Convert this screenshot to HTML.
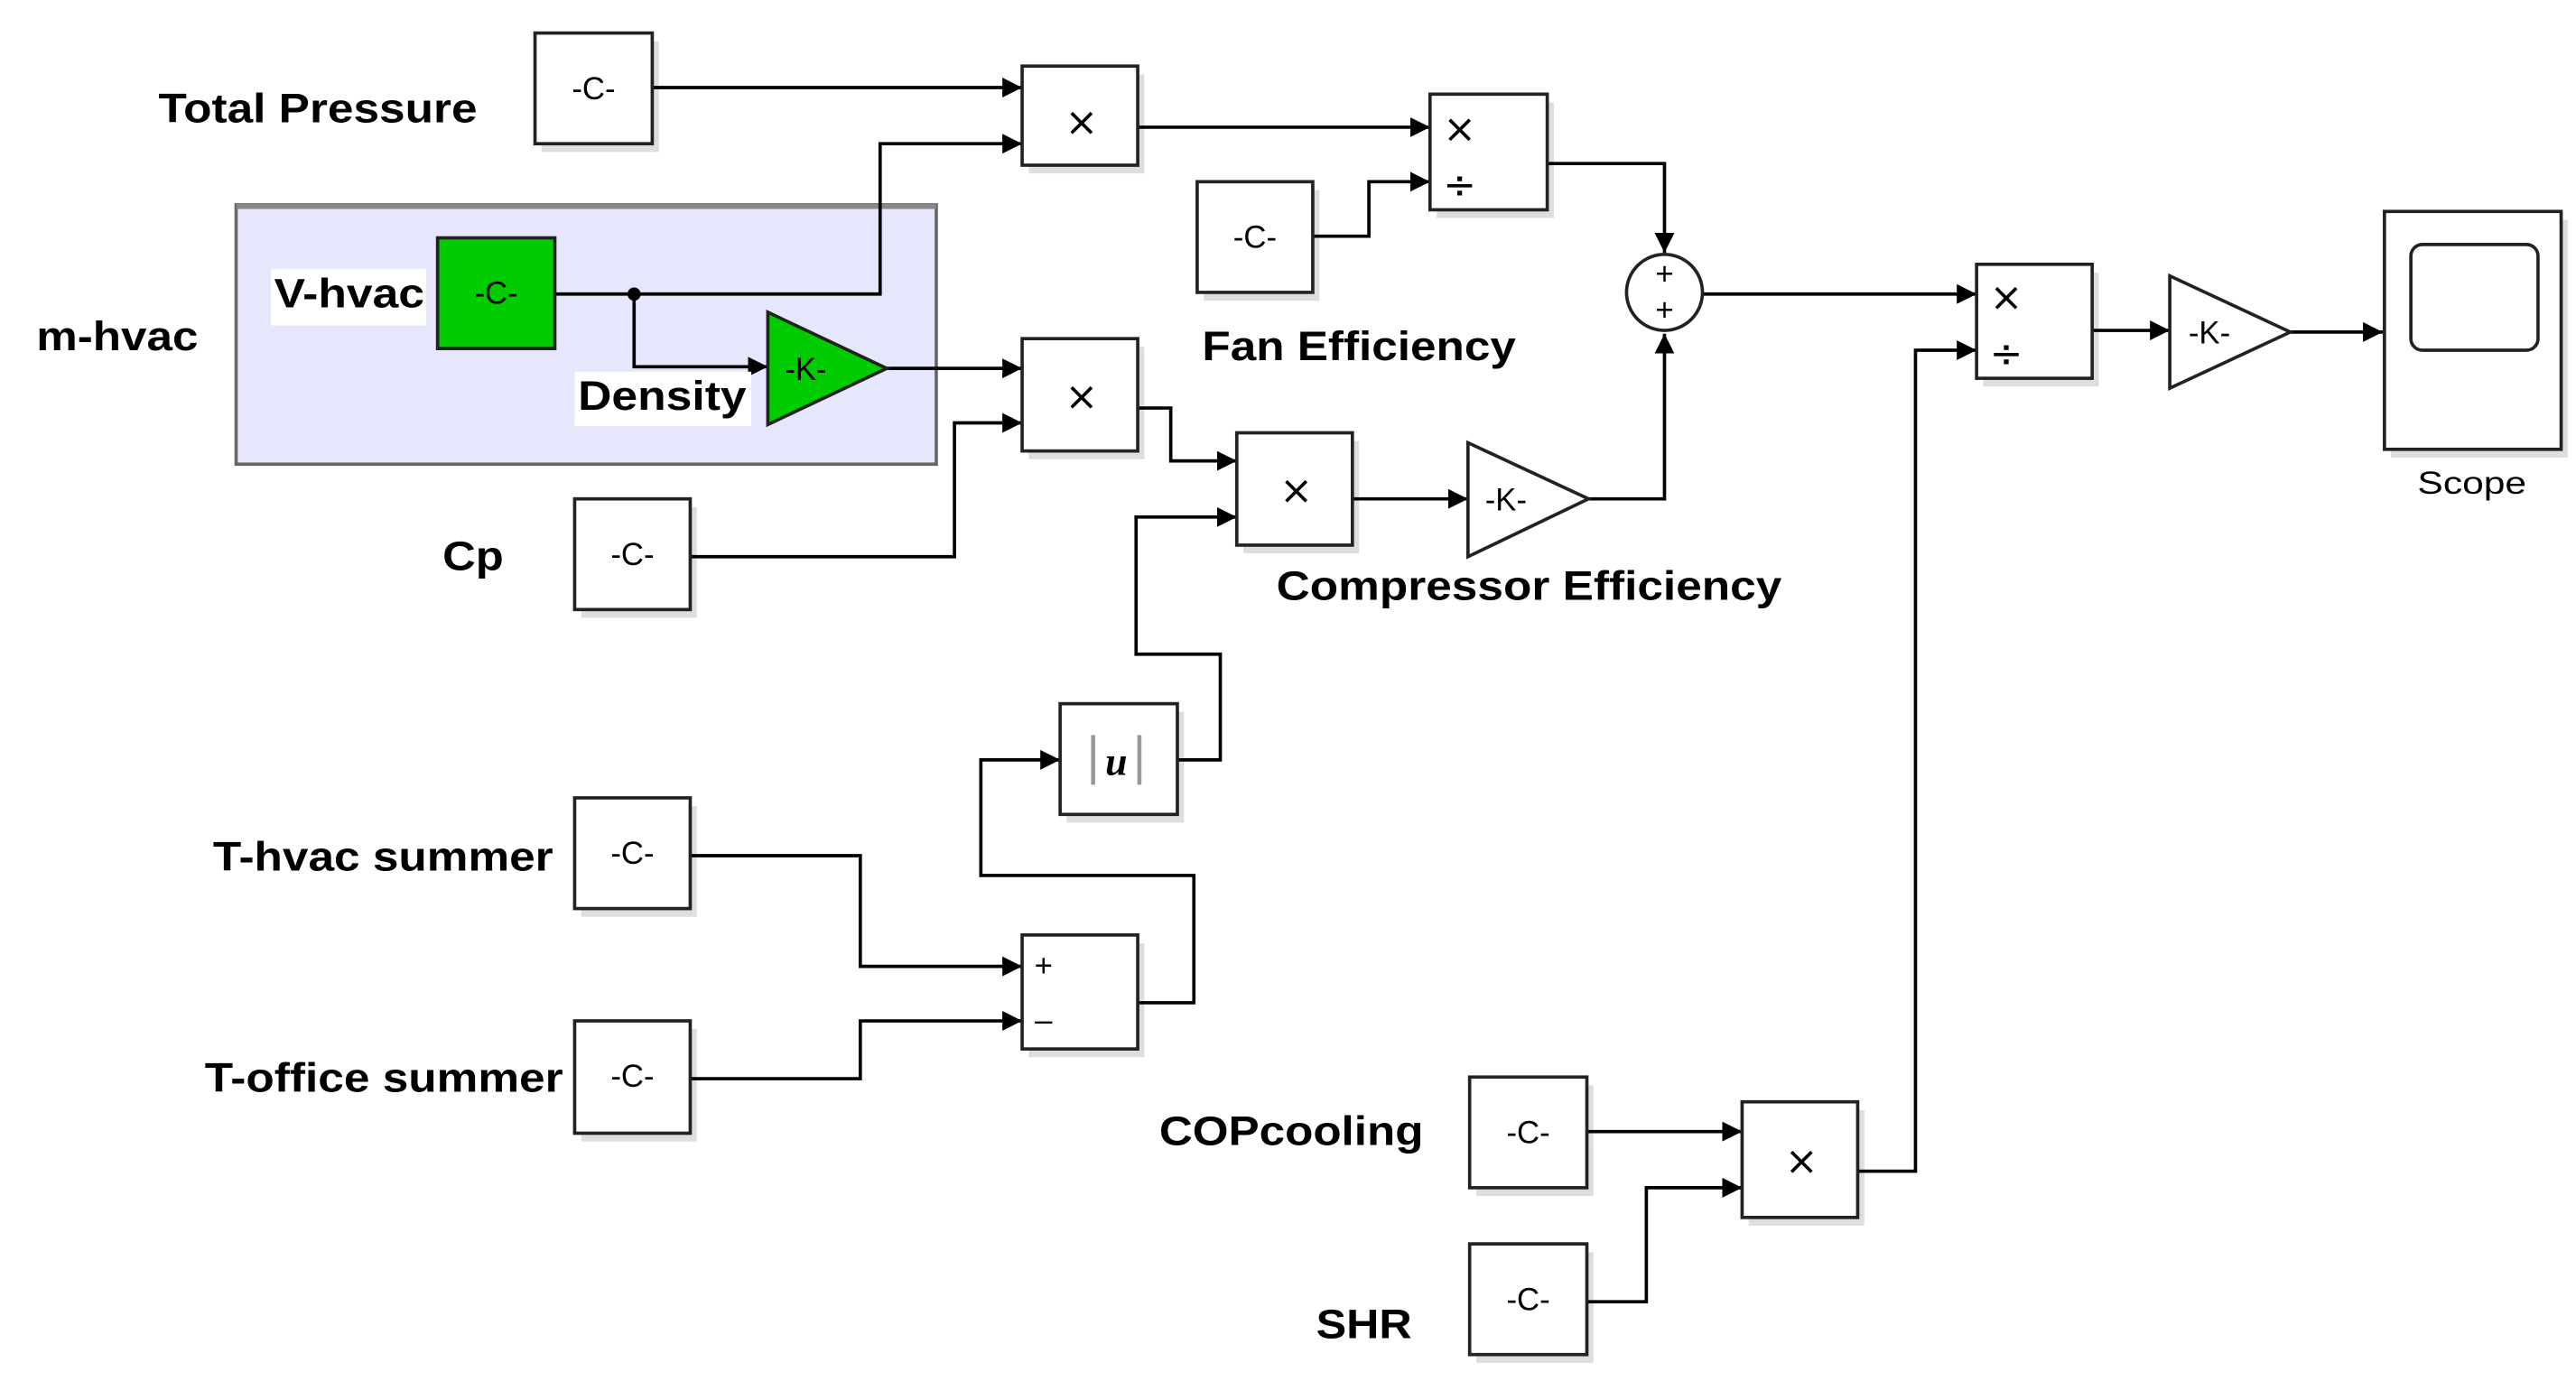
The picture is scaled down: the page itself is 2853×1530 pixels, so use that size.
<!DOCTYPE html>
<html><head><meta charset="utf-8"><style>
html,body{margin:0;padding:0;background:#fff;}
svg{display:block;}
.lb{font-family:"Liberation Sans",Arial,sans-serif;font-weight:bold;font-size:25px;fill:#000;}
.bt{font-family:"Liberation Sans",Arial,sans-serif;font-size:19px;fill:#000;}
.x{font-family:"DejaVu Sans",sans-serif;font-size:24px;fill:#000;}
.w{fill:none;stroke:#000;stroke-width:2;}
.blk{fill:#fff;stroke:#222;stroke-width:2;}
.sh{fill:#000;opacity:0.13;}
</style></head><body>
<svg width="2853" height="1530" viewBox="0 0 1560 836" preserveAspectRatio="none" xmlns="http://www.w3.org/2000/svg">
<defs>
<marker id="a" viewBox="0 0 12 12" refX="12" refY="6" markerWidth="12" markerHeight="12" markerUnits="userSpaceOnUse" orient="auto"><path d="M0,0L12,6L0,12z" fill="#000"/></marker>
</defs>

<rect x="143" y="124" width="424" height="157" fill="#e6e6fc" stroke="#666" stroke-width="2"/>
<line x1="143" y1="125" x2="567" y2="125" stroke="#888" stroke-width="3"/>

<line x1="336" y1="178" x2="384" y2="178" stroke="#000" stroke-width="2"/>
<g class="w" marker-end="url(#a)">
<polyline points="395,53 619,53"/>
<polyline points="384,178 533,178 533,87 619,87"/>
<polyline points="384,178 384,222 465,222"/>
<polyline points="537,223 619,223"/>
<polyline points="418,337 578,337 578,256 619,256"/>
<polyline points="689,77 866,77"/>
<polyline points="795,143 829,143 829,110 866,110"/>
<polyline points="937,99 1008,99 1008,153"/>
<polyline points="962,302 1008,302 1008,202"/>
<polyline points="1031,178 1197,178"/>
<polyline points="689,247 709,247 709,279 749,279"/>
<polyline points="713,460 739,460 739,396 688,396 688,313 749,313"/>
<polyline points="689,607 723,607 723,530 594,530 594,460 642,460"/>
<polyline points="418,518 521,518 521,585 619,585"/>
<polyline points="418,653 521,653 521,618 619,618"/>
<polyline points="819,302 889,302"/>
<polyline points="1267,200 1314,200"/>
<polyline points="1387,201 1443,201"/>
<polyline points="961,685 1055,685"/>
<polyline points="961,788 997,788 997,719 1055,719"/>
<polyline points="1125,709 1160,709 1160,212 1197,212"/>
</g>
<circle cx="384" cy="178" r="4" fill="#000"/>

<g class="sh">
<rect x="328" y="25" width="71" height="67"/>
<rect x="623" y="45" width="70" height="60"/>
<rect x="623" y="210" width="70" height="68"/>
<rect x="352" y="307" width="70" height="67"/>
<rect x="729" y="115" width="70" height="67"/>
<rect x="870" y="62" width="71" height="70"/>
<rect x="753" y="267" width="70" height="68"/>
<rect x="646" y="431" width="71" height="67"/>
<rect x="623" y="571" width="70" height="69"/>
<rect x="352" y="488" width="70" height="67"/>
<rect x="352" y="623" width="70" height="68"/>
<rect x="1201" y="165" width="70" height="69"/>
<rect x="1448" y="133" width="107" height="144"/>
<rect x="894" y="657" width="71" height="67"/>
<rect x="894" y="758" width="71" height="67"/>
<rect x="1059" y="672" width="70" height="70"/>
</g>

<rect x="164" y="163" width="94" height="34" fill="#fff"/>
<rect x="348" y="225" width="107" height="33" fill="#fff"/>

<rect class="blk" x="324" y="20" width="71" height="67"/><text class="bt" x="359.5" y="60" text-anchor="middle">-C-</text>
<rect class="blk" x="619" y="40" width="70" height="60"/><text class="x" x="655" y="82" text-anchor="middle">×</text>
<rect x="265" y="144" width="71" height="67" fill="#00cc00" stroke="#222" stroke-width="2"/><text class="bt" x="300.5" y="184" text-anchor="middle">-C-</text>
<polygon points="465,189 537,223 465,257" fill="#00cc00" stroke="#222" stroke-width="2"/><text class="bt" x="488" y="230" text-anchor="middle">-K-</text>
<rect class="blk" x="619" y="205" width="70" height="68"/><text class="x" x="655" y="248" text-anchor="middle">×</text>
<rect class="blk" x="348" y="302" width="70" height="67"/><text class="bt" x="383" y="342" text-anchor="middle">-C-</text>
<rect class="blk" x="725" y="110" width="70" height="67"/><text class="bt" x="760" y="150" text-anchor="middle">-C-</text>
<rect class="blk" x="866" y="57" width="71" height="70"/><text class="x" x="884" y="86" text-anchor="middle">×</text><text class="x" x="884" y="120" text-anchor="middle">÷</text>
<rect class="blk" x="749" y="262" width="70" height="68"/><text class="x" x="785" y="305" text-anchor="middle">×</text>
<polygon points="889,268 962,302 889,337" fill="#fff" stroke="#222" stroke-width="2"/><text class="bt" x="912" y="309" text-anchor="middle">-K-</text>
<ellipse cx="1008" cy="177" rx="23" ry="23" fill="#fff" stroke="#222" stroke-width="2"/>
<text class="bt" x="1008" y="172" text-anchor="middle" font-size="13">+</text><text class="bt" x="1008" y="194" text-anchor="middle" font-size="13">+</text>
<rect class="blk" x="642" y="426" width="71" height="67"/><text x="676" y="469" text-anchor="middle" font-family="Liberation Serif,serif" font-size="24" font-style="italic" font-weight="bold">u</text>
<line x1="662" y1="445" x2="662" y2="475" stroke="#999" stroke-width="2.5"/><line x1="690" y1="445" x2="690" y2="475" stroke="#999" stroke-width="2.5"/>
<rect class="blk" x="619" y="566" width="70" height="69"/><text class="bt" x="632" y="591" text-anchor="middle" font-size="14">+</text><text class="bt" x="632" y="624" text-anchor="middle" font-size="16">–</text>
<rect class="blk" x="348" y="483" width="70" height="67"/><text class="bt" x="383" y="523" text-anchor="middle">-C-</text>
<rect class="blk" x="348" y="618" width="70" height="68"/><text class="bt" x="383" y="658" text-anchor="middle">-C-</text>
<rect class="blk" x="1197" y="160" width="70" height="69"/><text class="x" x="1215" y="188" text-anchor="middle">×</text><text class="x" x="1215" y="222" text-anchor="middle">÷</text>
<polygon points="1314,167 1387,201 1314,235" fill="#fff" stroke="#222" stroke-width="2"/><text class="bt" x="1338" y="208" text-anchor="middle">-K-</text>
<rect class="blk" x="1444" y="128" width="107" height="144"/>
<rect x="1460" y="148" width="77" height="64" rx="7" fill="#fff" stroke="#222" stroke-width="2"/>
<text class="bt" x="1464" y="299" font-size="20" textLength="66" lengthAdjust="spacingAndGlyphs">Scope</text>
<rect class="blk" x="890" y="652" width="71" height="67"/><text class="bt" x="925.5" y="692" text-anchor="middle">-C-</text>
<rect class="blk" x="890" y="753" width="71" height="67"/><text class="bt" x="925.5" y="793" text-anchor="middle">-C-</text>
<rect class="blk" x="1055" y="667" width="70" height="70"/><text class="x" x="1091" y="711" text-anchor="middle">×</text>

<text class="lb" x="96" y="74" textLength="193" lengthAdjust="spacingAndGlyphs">Total Pressure</text>
<text class="lb" x="166" y="186" textLength="91" lengthAdjust="spacingAndGlyphs">V-hvac</text>
<text class="lb" x="22" y="212" textLength="98" lengthAdjust="spacingAndGlyphs">m-hvac</text>
<text class="lb" x="350" y="248" textLength="102" lengthAdjust="spacingAndGlyphs">Density</text>
<text class="lb" x="268" y="345" textLength="37" lengthAdjust="spacingAndGlyphs">Cp</text>
<text class="lb" x="728" y="218" textLength="190" lengthAdjust="spacingAndGlyphs">Fan Efficiency</text>
<text class="lb" x="773" y="363" textLength="306" lengthAdjust="spacingAndGlyphs">Compressor Efficiency</text>
<text class="lb" x="129" y="527" textLength="206" lengthAdjust="spacingAndGlyphs">T-hvac summer</text>
<text class="lb" x="124" y="661" textLength="217" lengthAdjust="spacingAndGlyphs">T-office summer</text>
<text class="lb" x="702" y="693" textLength="160" lengthAdjust="spacingAndGlyphs">COPcooling</text>
<text class="lb" x="797" y="810" textLength="58" lengthAdjust="spacingAndGlyphs">SHR</text>
</svg>
</body></html>
